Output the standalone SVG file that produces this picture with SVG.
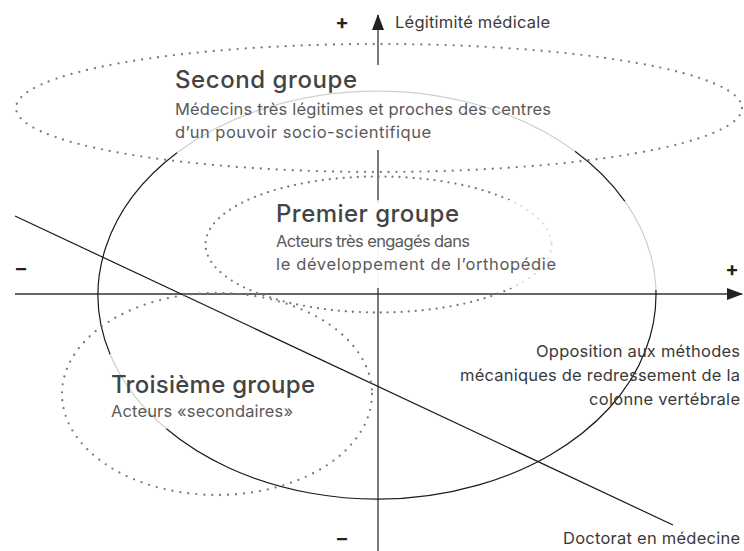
<svg xmlns="http://www.w3.org/2000/svg" width="744" height="551" viewBox="0 0 744 551">
<style>
text{font-family:"Inter","Liberation Sans",sans-serif;}
.h{font-size:24px;font-weight:500;fill:#444;}
.s{font-size:16.5px;fill:#5a5a5a;}
.l{font-size:16.5px;fill:#3a3a3a;}
.sign{font-size:20px;font-weight:700;fill:#222;}
.ax{stroke:#333;stroke-width:1.3;fill:none;}
.dot{fill:none;stroke:#7a7a7a;stroke-width:2.3;stroke-linecap:round;stroke-dasharray:0 8;}
.blk{fill:none;stroke:#1a1a1a;stroke-width:1.2;}
.gry{fill:none;stroke:#cfcfcf;stroke-width:1.2;}
</style>
<defs>
<marker id="ah" viewBox="0 0 16 12" refX="15" refY="6" markerWidth="16" markerHeight="12" markerUnits="userSpaceOnUse" orient="auto">
<path d="M0,0 L16,6 L0,12 Z" fill="#222"/>
</marker>
</defs>
<rect width="744" height="551" fill="#fff"/>
<g id="connectors">
<line class="ax" x1="15" y1="294" x2="742" y2="294" marker-end="url(#ah)"/>
<line class="ax" x1="378" y1="551" x2="378" y2="288"/>
<line x1="378" y1="288" x2="378" y2="232" stroke="#d8d8d8" stroke-width="1.2"/>
<line class="ax" x1="378" y1="203" x2="378" y2="150"/>
<line class="ax" x1="378" y1="65" x2="378" y2="15" marker-end="url(#ah)"/>
<line class="blk" x1="15" y1="216" x2="673" y2="525"/>
</g>
<g id="big-ellipse">
<path class="blk" d="M624.9,201.4 A279,204 0 0 0 575.0,151.3"/>
<path class="gry" d="M575.0,151.3 A279,204 0 0 0 177.0,152.8"/>
<path class="blk" d="M177.0,152.8 A279,204 0 0 0 110.2,354.6"/>
<path class="gry" d="M110.2,354.6 A279,204 0 0 0 166.4,428.8"/>
<path class="blk" d="M166.4,428.8 A279,204 0 0 0 655.9,289.7"/>
<path class="gry" d="M655.9,289.7 A279,204 0 0 0 624.9,201.4"/>
</g>
<g id="second-groupe">
<ellipse class="dot" cx="379" cy="108" rx="363" ry="64"/>
<text class="h" x="175" y="88" textLength="182" lengthAdjust="spacing">Second groupe</text>
<text class="s" x="175" y="115" textLength="376" lengthAdjust="spacing">Médecins très légitimes et proches des centres</text>
<text class="s" x="175" y="138" textLength="256" lengthAdjust="spacing">d’un pouvoir socio-scientifique</text>
</g>
<g id="premier-groupe">
<ellipse class="dot" cx="378.5" cy="244.5" rx="173" ry="68" style="stroke-dasharray:0 7"/>
<rect x="268" y="200" width="294" height="88" fill="#fff" fill-opacity="0.75"/>
<text class="h" x="276" y="222" textLength="183" lengthAdjust="spacing">Premier groupe</text>
<text class="s" x="276" y="247" textLength="194" lengthAdjust="spacing">Acteurs très engagés dans</text>
<text class="s" x="276" y="270" textLength="280" lengthAdjust="spacing">le développement de l’orthopédie</text>
</g>
<g id="troisieme-groupe">
<ellipse class="dot" cx="217" cy="394" rx="155" ry="101"/>
<text class="h" x="111" y="393" textLength="204" lengthAdjust="spacing">Troisième groupe</text>
<text class="s" x="111" y="417" textLength="182" lengthAdjust="spacing">Acteurs «secondaires»</text>
</g>
<g id="labels">
<text class="sign" x="342" y="29" text-anchor="middle">+</text>
<text class="l" x="395" y="28" textLength="155" lengthAdjust="spacing">Légitimité médicale</text>
<text class="sign" x="21" y="275" text-anchor="middle">–</text>
<text class="sign" x="732" y="276" text-anchor="middle">+</text>
<text class="sign" x="342" y="545" text-anchor="middle">–</text>
<text class="l" x="536" y="357" textLength="204" lengthAdjust="spacing">Opposition aux méthodes</text>
<text class="l" x="460" y="381" textLength="280" lengthAdjust="spacing">mécaniques de redressement de la</text>
<text class="l" x="589" y="405" textLength="151" lengthAdjust="spacing">colonne vertébrale</text>
<text class="l" x="563" y="544" textLength="177" lengthAdjust="spacing">Doctorat en médecine</text>
</g>
</svg>
